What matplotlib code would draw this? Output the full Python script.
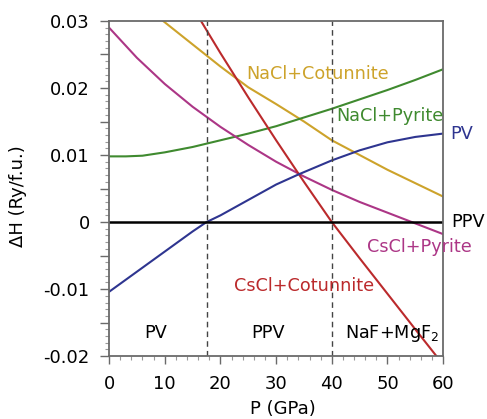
import matplotlib
matplotlib.use('Agg')
import matplotlib.pyplot as plt
from matplotlib.ticker import MultipleLocator, FuncFormatter

# pressures (GPa) and enthalpy differences (Ry/f.u.)
p_pv = [0, 5, 10, 15, 17.5, 20, 25, 30, 34, 40, 45, 50, 55, 60]
h_pv = [-0.0104, -0.0074, -0.0044, -0.0014, 0.0, 0.0010, 0.0033, 0.0056,
        0.0071, 0.0092, 0.0107, 0.0119, 0.0127, 0.0132]

p_nacl_pyr = [0, 3, 6, 10, 15, 17.5, 20, 25, 30, 35, 40, 45, 50, 55, 60]
h_nacl_pyr = [0.0098, 0.0098, 0.0099, 0.0104, 0.0112, 0.0117, 0.0122,
              0.0132, 0.0143, 0.0156, 0.0169, 0.0183, 0.0197, 0.0212, 0.0228]

p_nacl_cot = [9.7, 15, 20, 25, 30, 35, 40, 45, 50, 55, 60]
h_nacl_cot = [0.0300, 0.0265, 0.0232, 0.0201, 0.0176, 0.0150, 0.0122,
              0.0100, 0.0078, 0.0058, 0.0038]

p_cscl_cot = [16.5, 20, 25, 30, 35, 40, 45, 50, 55, 58.8]
h_cscl_cot = [0.0300, 0.0252, 0.0186, 0.0122, 0.0060, 0.0, -0.0054,
              -0.0107, -0.0160, -0.0200]

p_cscl_pyr = [0, 5, 10, 15, 20, 25, 30, 35, 40, 45, 50, 55, 60]
h_cscl_pyr = [0.0290, 0.0245, 0.0206, 0.0172, 0.0142, 0.0115, 0.0090,
              0.0068, 0.0048, 0.0030, 0.0014, -0.0002, -0.0018]

boundaries = [17.6, 40.0]

BLUE = '#2e3590'
GREEN = '#3f8a2f'
GOLD = '#cda32b'
RED = '#bb2a2c'
MAGENTA = '#ac3686'
FRAME = '#6a6a6a'

fig = plt.figure(figsize=(4.87, 4.19), dpi=100)
ax = fig.add_axes([0.224, 0.150, 0.686, 0.800])

ax.plot(p_nacl_cot, h_nacl_cot, color=GOLD, lw=1.5)
ax.plot(p_nacl_pyr, h_nacl_pyr, color=GREEN, lw=1.5)
ax.plot(p_cscl_pyr, h_cscl_pyr, color=MAGENTA, lw=1.5)
ax.plot(p_cscl_cot, h_cscl_cot, color=RED, lw=1.5)
ax.plot(p_pv, h_pv, color=BLUE, lw=1.5)
ax.plot([0, 60], [0, 0], color='black', lw=1.8)
for b in boundaries:
    ax.axvline(b, color='#444444', lw=1.0, ls=(0, (4, 3)))

ax.set_xlim(0, 60)
ax.set_ylim(-0.02, 0.03)

ax.xaxis.set_major_locator(MultipleLocator(10))
ax.xaxis.set_minor_locator(MultipleLocator(2))
ax.yaxis.set_major_locator(MultipleLocator(0.005))
ax.yaxis.set_minor_locator(MultipleLocator(0.001))

def yfmt(v, pos):
    if abs(v * 100 - round(v * 100)) > 1e-6:
        return ''
    if abs(v) < 1e-9:
        return '0'
    return f'{v:.2f}'

ax.yaxis.set_major_formatter(FuncFormatter(yfmt))
ax.tick_params(axis='x', which='major', direction='out', length=5.5, width=1,
               color=FRAME, labelsize=13, pad=8)
ax.tick_params(axis='y', which='major', direction='out', length=6.5, width=1,
               color=FRAME, labelsize=13, pad=7.5)
ax.tick_params(which='minor', direction='out', length=3, width=0.8,
               color='#999999')
for s in ax.spines.values():
    s.set_color(FRAME)
    s.set_linewidth(1.3)

ax.set_xlabel('P (GPa)', fontsize=13)
ax.xaxis.set_label_coords(0.52, -0.13)
ax.set_ylabel('ΔH (Ry/f.u.)', fontsize=13)
ax.yaxis.set_label_coords(-0.245, 0.478)

fs = 12.7
ax.text(24.7, 0.0221, 'NaCl+Cotunnite', color=GOLD, fontsize=fs, va='center')
ax.text(40.8, 0.0158, 'NaCl+Pyrite', color=GREEN, fontsize=fs, va='center')
ax.text(61.3, 0.0131, 'PV', color=BLUE, fontsize=fs, va='center', clip_on=False)
ax.text(61.5, 0.0, 'PPV', color='black', fontsize=fs, va='center', clip_on=False)
ax.text(46.3, -0.0037, 'CsCl+Pyrite', color=MAGENTA, fontsize=fs, va='center',
        clip_on=False)
ax.text(22.4, -0.0096, 'CsCl+Cotunnite', color=RED, fontsize=fs, va='center')
ax.text(8.3, -0.0166, 'PV', color='black', fontsize=fs, ha='center', va='center')
ax.text(28.5, -0.0166, 'PPV', color='black', fontsize=fs, ha='center', va='center')
ax.text(42.4, -0.0166, 'NaF+MgF$_2$', color='black', fontsize=fs, va='center')

fig.savefig('out.png', dpi=100)
